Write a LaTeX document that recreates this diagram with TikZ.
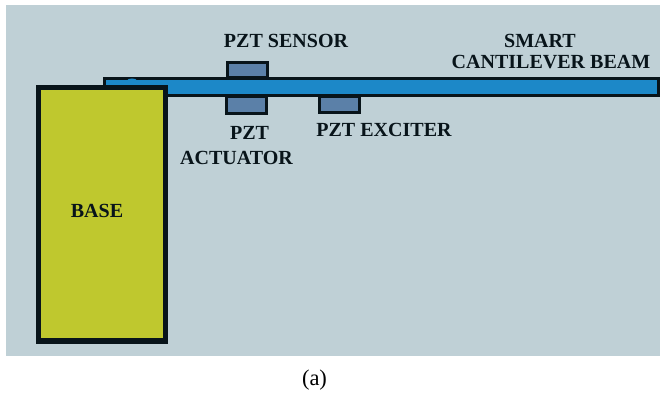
\documentclass[tikz,border=0pt]{standalone}
\usepackage{fontspec}
\setmainfont{Liberation Serif}
\definecolor{panelcol}{HTML}{BFD0D6}
\definecolor{basecol}{HTML}{BFC82E}
\definecolor{beamcol}{HTML}{1C88C8}
\definecolor{pztcol}{HTML}{5B80A8}
\definecolor{linecol}{HTML}{08141A}
\tikzset{
    pzt/.style={draw=linecol,fill=pztcol,line width=0.85pt},
    lab/.style={text=linecol,font=\fontsize{5.7}{6.4}\selectfont\bfseries,inner sep=0pt},
}
\begin{document}
\begin{tikzpicture}
\useasboundingbox (0,0) rectangle (6.6,3.96);
\fill[white] (0,0) rectangle (6.6,3.96);
\fill[panelcol] (0.06,0.40) rectangle (6.6,3.91);
\draw[pzt] (2.275,3.18) rectangle (2.675,3.335);
\draw[pzt] (2.265,2.825) rectangle (2.665,2.995);
\draw[pzt] (3.195,2.835) rectangle (3.595,2.995);
\draw[draw=linecol,fill=beamcol,line width=0.85pt] (1.045,3.175) rectangle (6.585,3.005);
\fill[beamcol] (1.32,3.155) ellipse (0.05 and 0.02);
\draw[draw=linecol,fill=basecol,line width=1.45pt] (0.385,3.085) rectangle (1.655,0.55);
\node[lab] (sensor) at (2.86,3.555) {PZT SENSOR};
\node[lab] (smart) at (5.40,3.555) {SMART};
\node[lab] (cantilever) at (5.51,3.335) {CANTILEVER BEAM};
\node[lab] (pztact) at (2.495,2.635) {PZT};
\node[lab] (actuator) at (2.365,2.385) {ACTUATOR};
\node[lab] (exciter) at (3.84,2.66) {PZT EXCITER};
\node[lab] (base) at (0.97,1.85) {BASE};
\node[font=\fontsize{6.4}{7}\selectfont,inner sep=0pt] (caption) at (3.145,0.16) {(a)};
\end{tikzpicture}
\end{document}
